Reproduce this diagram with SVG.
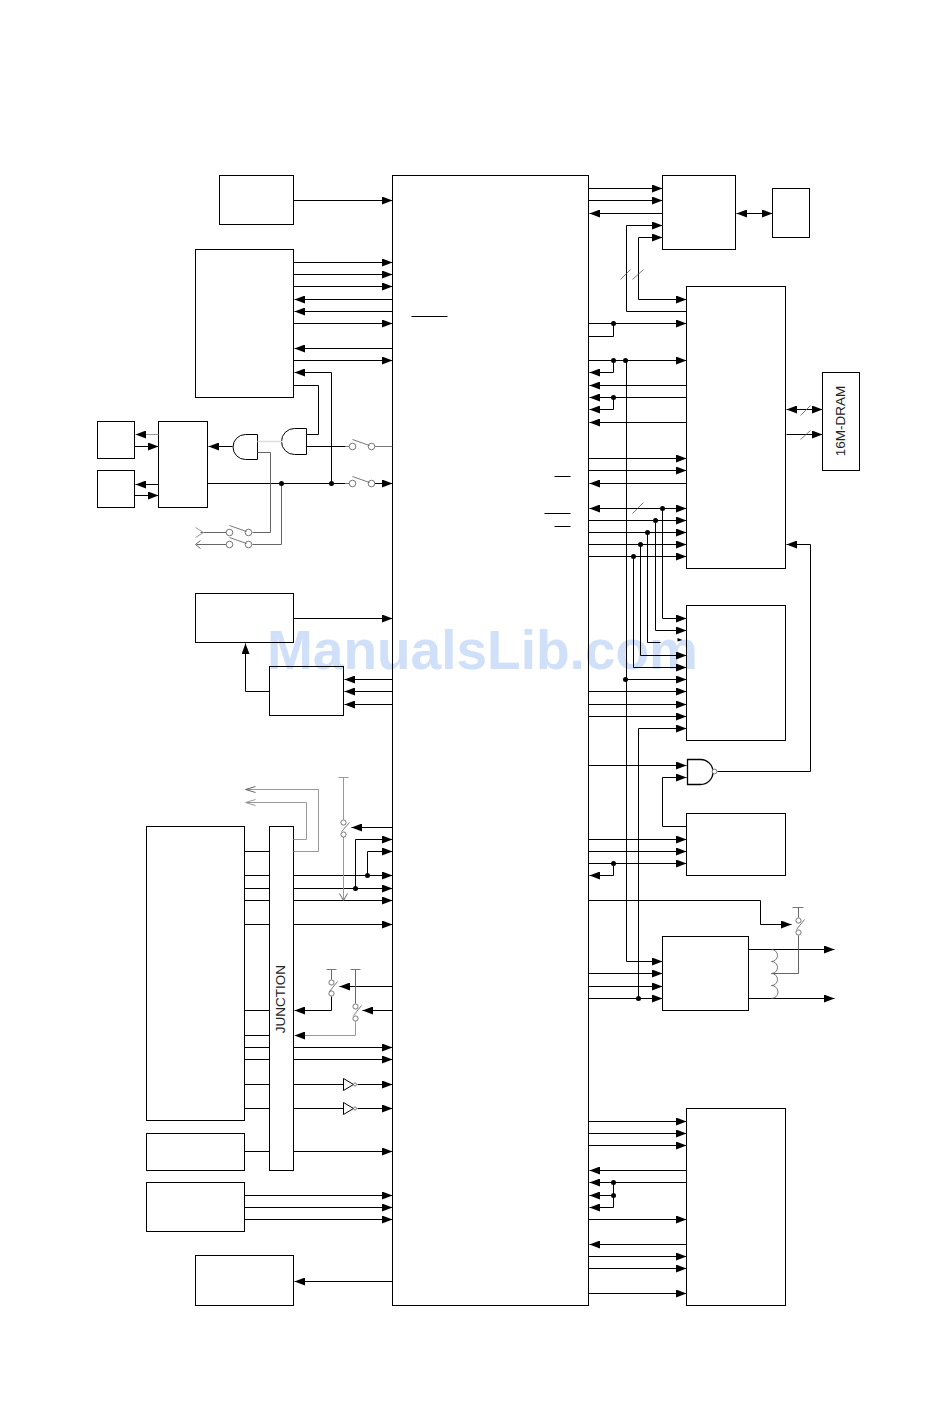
<svg xmlns="http://www.w3.org/2000/svg" width="950" height="1409" viewBox="0 0 950 1409">
<style>
.b{fill:none;stroke:#000;stroke-width:1}
.c{fill:none;stroke:#000;stroke-width:1}
.g{fill:none;stroke:#666;stroke-width:1}
.h{fill:none;stroke:#999;stroke-width:1}
.l{fill:none;stroke:#ddd;stroke-width:1.5}
.s{fill:none;stroke:#555;stroke-width:.8}
.o{fill:#fff;stroke:#555;stroke-width:.8}
.e{fill:none;stroke:#000;stroke-width:1;marker-end:url(#a)}
.f{fill:none;stroke:#999;stroke-width:1;marker-end:url(#a)}
.d{fill:none;stroke:#000;stroke-width:1;marker-start:url(#a);marker-end:url(#a)}
.w{font:bold 55px "Liberation Sans",Arial,sans-serif;fill:#cfe0f8}
.t{font:13.5px "Liberation Sans",Arial,sans-serif;fill:#222;text-anchor:middle}
</style>
<defs>
<marker id="a" markerUnits="userSpaceOnUse" viewBox="0 0 11 8" refX="10.5" refY="4" markerWidth="11" markerHeight="8" orient="auto-start-reverse"><path d="M0,0L10.5,4L0,8Z" fill="#000"/></marker>
<g id="dot"><circle r="2.5" fill="#000"/></g>
</defs>
<rect width="950" height="1409" fill="#fff"/>
<text class="w" x="267" y="669">ManualsLib.com</text>
<g transform="translate(.5 .5)">
<g id="main"><rect class="b" x="392" y="175" width="196" height="1130"/>
<path class="c" d="M411,316H447M554,476H570M544,513H570M554,526H570"/></g>
<g id="n-a"><rect class="b" x="219" y="175" width="74" height="49"/></g>
<g id="n-b"><rect class="b" x="195" y="249" width="98" height="148"/></g>
<g id="n-c"><rect class="b" x="158" y="421" width="49" height="86"/></g>
<g id="n-c1"><rect class="b" x="97" y="421" width="37" height="37"/></g>
<g id="n-c2"><rect class="b" x="97" y="470" width="37" height="37"/></g>
<g id="n-d"><rect class="b" x="195" y="593" width="98" height="49"/></g>
<g id="n-e"><rect class="b" x="269" y="666" width="74" height="49"/></g>
<g id="n-f"><rect class="b" x="146" y="826" width="98" height="294"/></g>
<g id="n-junction"><rect class="b" x="269" y="826" width="24" height="344"/><text class="t" transform="translate(284.500 998.500) rotate(-90)">JUNCTION</text></g>
<g id="n-h"><rect class="b" x="146" y="1133" width="98" height="37"/></g>
<g id="n-i"><rect class="b" x="146" y="1182" width="98" height="49"/></g>
<g id="n-j"><rect class="b" x="195" y="1255" width="98" height="50"/></g>
<g id="n-k"><rect class="b" x="662" y="175" width="73" height="74"/></g>
<g id="n-l"><rect class="b" x="772" y="188" width="37" height="49"/></g>
<g id="n-m"><rect class="b" x="686" y="286" width="99" height="282"/></g>
<g id="n-dram"><rect class="b" x="822" y="372" width="37" height="98"/><text class="t" transform="translate(844.500 420.500) rotate(-90)">16M-DRAM</text></g>
<g id="n-n"><rect class="b" x="686" y="605" width="99" height="135"/></g>
<g id="n-o"><rect class="b" x="686" y="813" width="99" height="62"/></g>
<g id="n-p"><rect class="b" x="662" y="936" width="86" height="74"/></g>
<g id="n-q"><rect class="b" x="686" y="1108" width="99" height="197"/></g>
<g id="gate-1"><path class="c" d="M257,434H245A12.500,12.500 0 0 0 245,459H257Z"/></g>
<g id="gate-2"><path class="c" d="M306,428H294A13,13 0 0 0 294,454H306Z"/></g>
<g id="gate-3"><path d="M687,759H700A12.500,12.500 0 0 1 700,784H687Z" class="c" style="stroke-width:1.300"/><circle class="o" cx="714" cy="771" r="2.400"/></g>
<g id="buffer-1"><path class="c" d="M343,1078L353,1084L343,1090Z"/><circle class="o" cx="354.500" cy="1084" r="1.500"/></g>
<g id="buffer-2"><path class="c" d="M343,1102L353,1108L343,1114Z"/><circle class="o" cx="354.500" cy="1108" r="1.500"/></g>
<g id="connectors">
<path class="e" d="M293,200H392"/><path class="e" d="M293,262H392"/><path class="e" d="M293,274H392"/><path class="e" d="M293,286H392"/>
<path class="e" d="M392,299H294"/><path class="e" d="M392,311H294"/><path class="e" d="M293,323H392"/><path class="e" d="M392,348H294"/><path class="e" d="M293,360H392"/>
<path class="e" d="M331,483V372H294"/>
<path class="c" d="M293,385H318V434H306M306,446H345M207,483H345"/>
<path class="e" d="M232,446H208"/><path class="e" d="M134,446H158"/><path class="e" d="M158,484H135"/><path class="e" d="M134,495H158"/>
<path class="f" d="M158,434H135"/>
<path class="l" d="M257,441H282"/>
<path class="g" d="M257,452H270V532H252M232,532H200M252,544H281V483M232,544H196"/>
<path class="h" d="M195,527L203,532L195,537"/>
<path class="g" d="M200,540L195,544L200,548"/>
<path class="s" d="M345,446H349M374,446H392M345,483H349"/>
<path class="e" d="M374,483H392"/>
<path class="e" d="M293,618H392"/><path class="e" d="M392,679H344"/><path class="e" d="M392,691H344"/><path class="e" d="M392,704H344"/><path class="e" d="M269,691H245V643"/>
<path class="c" d="M244,851H269M244,875H269M244,888H269M244,900H269M244,924H269M244,1010H269M244,1035H269M244,1047H269M244,1059H269M244,1084H269M244,1108H269M244,1151H269"/>
<path class="e" d="M293,875H392"/><path class="e" d="M293,888H392"/><path class="e" d="M293,900H392"/><path class="e" d="M293,924H392"/>
<path class="e" d="M355,888V839H392"/><path class="e" d="M367,875V851H392"/><path class="e" d="M392,827H351"/>
<path class="h" d="M293,851H318V789H246"/>
<path class="g" d="M255,786L245,789L255,792"/>
<path class="h" d="M293,839H306V802H246"/>
<path class="h" d="M255,799L245,802L255,805"/>
<path class="h" d="M338,777H348M343,777V819M343,836V899"/>
<path class="g" d="M339,893L343,900L347,893"/>
<path class="e" d="M331,996V1010H294"/><path class="e" d="M392,986H339"/><path class="e" d="M392,1010H362"/><path class="e" d="M293,1047H392"/><path class="e" d="M293,1059H392"/>
<path class="e" d="M357,1084H392"/><path class="e" d="M357,1108H392"/><path class="e" d="M293,1151H392"/>
<path class="c" d="M293,1084H343M293,1108H343"/>
<path class="s" d="M326,969H336M350,969H360"/>
<path class="g" d="M331,969V979M355,969V1003"/>
<path class="f" d="M355,1021V1035H294"/>
<path class="e" d="M244,1195H392"/><path class="e" d="M244,1207H392"/><path class="e" d="M244,1219H392"/><path class="e" d="M392,1281H294"/>
<path class="e" d="M588,188H662"/><path class="e" d="M588,200H662"/><path class="e" d="M662,213H589"/>
<path class="e" d="M686,311H626V225H662"/><path class="d" d="M662,237H638V299H686"/>
<path class="d" d="M736,213H772"/><path class="d" d="M589,508H686"/><path class="d" d="M786,409H822"/><path class="e" d="M786,434H822"/>
<path class="e" d="M588,323H686"/><path class="c" d="M588,336H613V323"/>
<path class="e" d="M588,360H686"/><path class="e" d="M613,360V372H589"/><path class="e" d="M686,385H589"/><path class="e" d="M686,397H589"/><path class="e" d="M613,397V409H589"/><path class="e" d="M686,422H589"/>
<path class="e" d="M588,458H686"/><path class="e" d="M588,470H686"/><path class="e" d="M686,483H589"/>
<path class="e" d="M588,520H686"/><path class="e" d="M588,532H686"/><path class="e" d="M588,544H686"/><path class="e" d="M588,556H686"/>
<path class="e" d="M662,508V618H686"/><path class="e" d="M655,520V630H686"/>
<path class="c" d="M647,532V642H660"/><path d="M677,637.500L682,639.500L677,641Z"/>
<path class="e" d="M640,544V655H686"/><path class="e" d="M633,556V667H686"/>
<path class="e" d="M625,679H686"/><path class="e" d="M588,691H686"/><path class="e" d="M588,704H686"/><path class="e" d="M588,716H686"/><path class="e" d="M638,998V728H686"/>
<path class="e" d="M626,360V961H662"/>
<path class="e" d="M588,765H686"/><path class="e" d="M686,826H662V777H686"/><path class="e" d="M717,771H810V544H786"/>
<path class="e" d="M588,839H686"/><path class="e" d="M588,851H686"/><path class="e" d="M588,863H686"/><path class="e" d="M613,863V875H589"/>
<path class="e" d="M588,900H760V924H791"/>
<path class="e" d="M588,973H662"/><path class="e" d="M588,986H662"/><path class="e" d="M588,998H662"/><path class="e" d="M748,949H834"/><path class="e" d="M748,998H834"/>
<path class="e" d="M588,1121H686"/><path class="e" d="M588,1133H686"/><path class="e" d="M588,1145H686"/><path class="e" d="M686,1170H589"/><path class="e" d="M686,1182H589"/><path class="e" d="M613,1195H589"/><path class="e" d="M613,1182V1207H589"/>
<path class="e" d="M588,1219H686"/><path class="e" d="M686,1244H589"/><path class="e" d="M588,1256H686"/><path class="e" d="M588,1268H686"/><path class="e" d="M588,1293H686"/>
<path class="g" d="M771,973H798V935M798,917V907"/>
<path class="s" d="M792,907H803"/>
<path class="s" d="M771,949A6,6 0 0 1 771,961A6,6 0 0 1 771,973A6,6 0 0 1 771,985A6,6 0 0 1 771,998"/>
<path class="s" d="M620,279L630,269M632,279L643,269M632,513L643,502M800,415L810,405M800,439L810,430"/>
<g id="switches">
<circle class="o" cx="352" cy="446" r="3.300"/><circle class="o" cx="371" cy="446" r="3.300"/><path class="s" d="M352,439L369,445"/>
<circle class="o" cx="352" cy="483" r="3.300"/><circle class="o" cx="371" cy="483" r="3.300"/><path class="s" d="M352,476L369,482"/>
<circle class="o" cx="229" cy="532" r="3.300"/><circle class="o" cx="248" cy="532" r="3.300"/><path class="s" d="M229,525L246,531"/>
<circle class="o" cx="229" cy="544" r="3.300"/><circle class="o" cx="248" cy="544" r="3.300"/><path class="s" d="M229,537L246,543"/>
<circle class="o" cx="343" cy="822" r="2.600"/><circle class="o" cx="343" cy="834" r="2.600"/><path class="s" d="M349,822L341,831"/>
<circle class="o" cx="331" cy="982" r="2.600"/><circle class="o" cx="331" cy="993" r="2.600"/><path class="s" d="M337,981L329,991"/>
<circle class="o" cx="355" cy="1006" r="2.600"/><circle class="o" cx="355" cy="1018" r="2.600"/><path class="s" d="M361,1005L353,1015"/>
<circle class="o" cx="798" cy="920" r="2.600"/><circle class="o" cx="798" cy="932" r="2.600"/><path class="s" d="M804,919L796,929"/>
</g>
<g id="dots">
<use href="#dot" x="281" y="483"/><use href="#dot" x="331" y="483"/><use href="#dot" x="355" y="888"/><use href="#dot" x="367" y="875"/>
<use href="#dot" x="613" y="323"/><use href="#dot" x="613" y="360"/><use href="#dot" x="625" y="360"/><use href="#dot" x="613" y="397"/>
<use href="#dot" x="662" y="508"/><use href="#dot" x="655" y="520"/><use href="#dot" x="647" y="532"/><use href="#dot" x="640" y="544"/><use href="#dot" x="633" y="556"/>
<use href="#dot" x="625" y="679"/><use href="#dot" x="613" y="863"/><use href="#dot" x="638" y="998"/>
<use href="#dot" x="613" y="1182"/><use href="#dot" x="613" y="1195"/>
</g>
</g>
</g>
</svg>
